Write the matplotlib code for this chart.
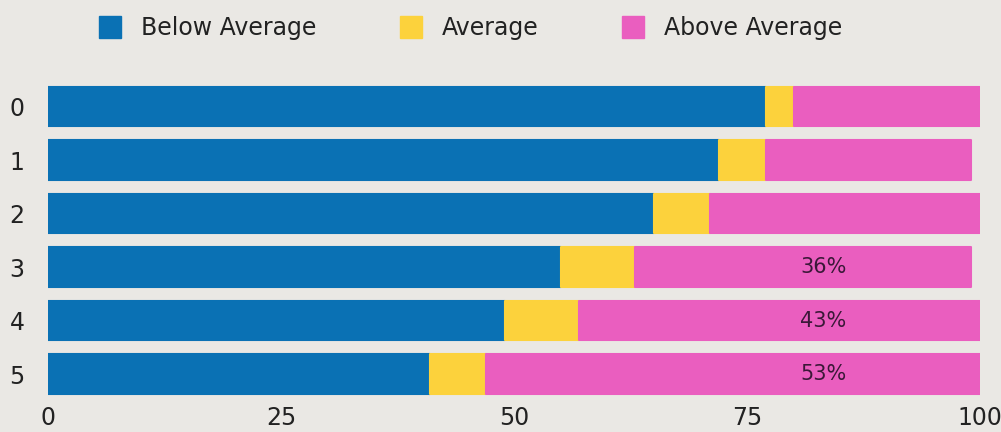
import numpy as np
import matplotlib.pyplot as plt
from matplotlib.lines import Line2D

categories = ['0', '1', '2', '3', '4', '5']
below_avg = [77, 72, 65, 55, 49, 41]
average = [3, 5, 6, 8, 8, 6]
above_avg = [20, 22, 29, 36, 43, 53]
shown_labels = [None, None, None, '36%', '43%', '53%']

series_names = ['Below Average', 'Average', 'Above Average']
colors = ['#0a71b4', '#fcd23c', '#ea5ebf']

plt.rcParams['font.family'] = ['DejaVu Sans']

fig = plt.figure(figsize=(10.01, 4.32), dpi=100, facecolor='#eae8e4')
ax = fig.add_axes([0.048, 0.072, 0.931, 0.743])
ax.set_facecolor('#eae8e4')

y = np.arange(len(categories))
left = np.zeros(len(categories))
for vals, col in zip([below_avg, average, above_avg], colors):
    ax.barh(y, vals, left=left, height=0.74, color=col, edgecolor=col,
            linewidth=1.5, joinstyle='round')
    left = left + np.array(vals)

for i, lab in enumerate(shown_labels):
    if lab:
        ax.text(83.2, i, lab, ha='center', va='center', fontsize=15,
                color='#3b1838')

ax.set_xlim(0, 100)
ax.set_ylim(5.5, -0.5)
ax.set_yticks(y)
ax.set_yticklabels(categories)
ax.set_xticks([0, 25, 50, 75, 100])
ax.tick_params(length=0, labelsize=17, colors='#222222')
ax.tick_params(axis='y', pad=17)
ax.tick_params(axis='x', pad=4)
for s in ax.spines.values():
    s.set_visible(False)

handles = [Line2D([], [], marker='s', linestyle='', markersize=16,
                  markerfacecolor=c, markeredgecolor=c) for c in colors]
fig.legend(handles, series_names, loc='center left', bbox_to_anchor=(0.082, 0.935),
           ncol=3, frameon=False, fontsize=17, handletextpad=0.6, borderpad=0,
           handlelength=1.4, columnspacing=3.3, labelcolor='#222222')

fig.savefig('out.png', dpi=100, facecolor=fig.get_facecolor())
